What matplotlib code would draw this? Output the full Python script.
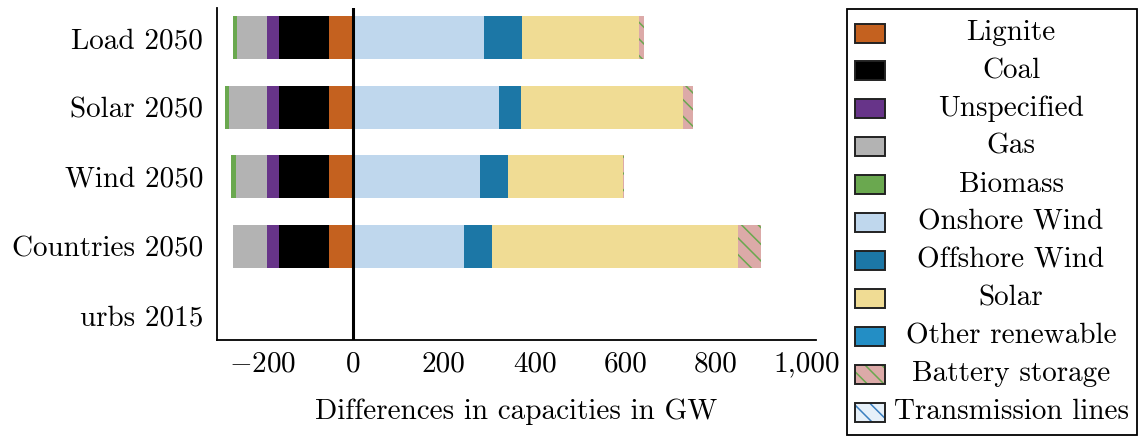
import numpy as np
import matplotlib
matplotlib.use("Agg")
import matplotlib.pyplot as plt
from matplotlib.patches import Rectangle
from matplotlib import ticker

# capacity differences per scenario, GW (negative = decommissioned)
scenarios = ["Load 2050", "Solar 2050", "Wind 2050", "Countries 2050", "urbs 2015"]
lignite = [-53, -53, -53, -53, 0]
coal = [-110, -110, -110, -110, 0]
unspecified = [-26, -26, -26, -26, 0]
gas = [-66, -84, -70, -75, 0]
biomass = [-9.5, -9.5, -9.5, 0, 0]
onshore = [288, 321, 279, 244, 0]
offshore = [84, 50, 62, 62, 0]
solar = [257, 356, 253, 543, 0]
other_ren = [0, 0, 0, 0, 0]
battery = [13, 22, 2, 50, 0]
transmission = [0, 0, 0, 0, 0]

tech_names = ["Lignite", "Coal", "Unspecified", "Gas", "Biomass", "Onshore Wind",
              "Offshore Wind", "Solar", "Other renewable", "Battery storage",
              "Transmission lines"]
tech_values = [lignite, coal, unspecified, gas, biomass, onshore, offshore, solar,
               other_ren, battery, transmission]
colors = ["#c4611f", "#000000", "#673489", "#b3b3b3", "#6aa84f", "#bfd7ed",
          "#1c77a6", "#f0dc94", "#238ec5", "#dcaaa8", "#e6f0f9"]
hatches = [None] * 9 + ["\\\\", "\\\\"]
hatch_colors = [None] * 9 + ["#6aa84f", "#3a7fc0"]

plt.rcParams["font.family"] = "serif"
plt.rcParams["font.serif"] = ["cmr10"]
plt.rcParams["mathtext.fontset"] = "cm"
plt.rcParams["font.size"] = 21
plt.rcParams["hatch.linewidth"] = 1.1

W, H = 1139, 437
fig = plt.figure(figsize=(W / 100, H / 100), dpi=100)
ax = fig.add_axes([217 / W, (H - 340) / H, (816 - 217) / W, (340 - 8) / H])

y = np.arange(len(scenarios))
pos_left = np.zeros(len(scenarios))
neg_left = np.zeros(len(scenarios))
for name, vals, c, h, hc in zip(tech_names, tech_values, colors, hatches, hatch_colors):
    vals = np.array(vals, dtype=float)
    left = np.where(vals < 0, neg_left, pos_left)
    ax.barh(y, vals, left=left, height=0.62, color=c,
            edgecolor=hc if hc else c, linewidth=0, hatch=h)
    neg_left += np.minimum(vals, 0)
    pos_left += np.maximum(vals, 0)

ax.axvline(0, color="black", lw=2.2, zorder=5)

ax.set_yticks(y)
ax.set_yticklabels(scenarios)
ax.set_ylim(4.35, -0.43)
ax.set_xlim(-300, 1020)
ax.set_xticks([-200, 0, 200, 400, 600, 800, 1000])


def fmt(x, pos):
    s = f"{abs(x):,.0f}"
    return r"$-$" + s if x < 0 else s


ax.xaxis.set_major_formatter(ticker.FuncFormatter(fmt))
ax.tick_params(length=0)
ax.tick_params(axis="x", pad=8)
ax.tick_params(axis="y", pad=10)
ax.set_xlabel("Differences in capacities in GW", labelpad=15)
for s in ["top", "right"]:
    ax.spines[s].set_visible(False)
for s in ["left", "bottom"]:
    ax.spines[s].set_linewidth(1.3)


# legend box drawn by hand so that the labels sit centred
def fx(px):
    return px / W


def fy(py):
    return 1 - py / H


fig.add_artist(Rectangle((fx(847), fy(435)), fx(1137) - fx(847), fy(9) - fy(435),
                         transform=fig.transFigure, fill=False, edgecolor="black",
                         lw=1.3))
for i, (name, c, h, hc) in enumerate(zip(tech_names, colors, hatches, hatch_colors)):
    cy = 33 + i * 37.9
    fig.add_artist(Rectangle((fx(855), fy(cy + 9.5)), fx(885) - fx(855), fy(cy - 9.5) - fy(cy + 9.5),
                             transform=fig.transFigure, facecolor=c,
                             edgecolor=hc if hc else c, lw=0, hatch=h))
    fig.add_artist(Rectangle((fx(855), fy(cy + 9.5)), fx(885) - fx(855), fy(cy - 9.5) - fy(cy + 9.5),
                             transform=fig.transFigure, fill=False,
                             edgecolor="#222222", lw=1.4))
    fig.text(fx(1011), fy(cy), name, ha="center", va="center")

fig.savefig("out.png", dpi=100)
